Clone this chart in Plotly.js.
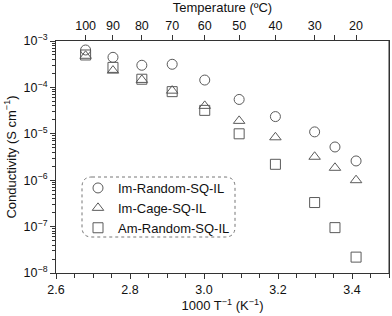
<!DOCTYPE html>
<html>
<head>
<meta charset="utf-8">
<script src="https://cdn.plot.ly/plotly-3.0.1.min.js"></script>
<style>html,body{margin:0;padding:0;background:#fff;}#chart{width:392px;height:316px;}</style>
</head>
<body>
<div id="chart"></div>
<script>
// Data
const tempLabels = ["100", "90", "80", "70", "60", "50", "40", "30", "", "20"]; // °C (25 °C unlabeled)
const invT = [2.680, 2.754, 2.832, 2.914, 3.002, 3.095, 3.193, 3.299, 3.354, 3.411]; // 1000/T (K^-1)
const imRandom = [6.4e-4, 4.45e-4, 3.0e-4, 3.15e-4, 1.44e-4, 5.5e-5, 2.35e-5, 1.1e-5, 5.2e-6, 2.6e-6];
const imCage = [4.8e-4, 2.3e-4, 1.45e-4, 8.5e-5, 4.0e-5, 1.9e-5, 8.4e-6, 3.2e-6, 1.85e-6, 1.0e-6];
const amRandom = [5.0e-4, 2.7e-4, 1.5e-4, 8.1e-5, 3.2e-5, 1.0e-5, 2.2e-6, 3.3e-7, 9.5e-8, 2.2e-8];
const seriesNames = ["Im-Random-SQ-IL", "Im-Cage-SQ-IL", "Am-Random-SQ-IL"];
const yTickVals = [1e-8, 1e-7, 1e-6, 1e-5, 1e-4, 1e-3];
const yTickText = ["10<sup>−8</sup>", "10<sup>−7</sup>", "10<sup>−6</sup>", "10<sup>−5</sup>", "10<sup>−4</sup>", "10<sup>−3</sup>"];

const mcol = '#5a5a5a';
const fam = 'Liberation Sans, Arial, sans-serif';
const font = {family: fam, size: 12.5, color: '#111'};

function tr(y, name, symbol) {
  return {
    x: invT, y: y, name: name, type: 'scatter', mode: 'markers',
    marker: {symbol: symbol, size: 10, color: mcol, line: {color: mcol, width: 1}},
    xaxis: 'x', yaxis: 'y'
  };
}
const data = [
  tr(imRandom, seriesNames[0], 'circle-open'),
  tr(imCage, seriesNames[1], 'triangle-up-open'),
  tr(amRandom, seriesNames[2], 'square-open'),
  {x: invT, y: imRandom, xaxis: 'x2', yaxis: 'y', type: 'scatter', mode: 'markers',
   marker: {opacity: 0}, showlegend: false, hoverinfo: 'skip'}
];

const L = 56, R = 3, T = 41, B = 43;
const W = 392, H = 316;
const pw = W - L - R, ph = H - T - B;
// legend box in pixels -> paper
const bx0 = (82 - L) / pw, bx1 = (235 - L) / pw;
const by0 = 1 - (237 - T) / ph, by1 = 1 - (177 - T) / ph;
const rx = 10 / pw, ry = 10 / ph;
const path = `M ${bx0 + rx} ${by1} L ${bx1 - rx} ${by1} Q ${bx1} ${by1} ${bx1} ${by1 - ry} ` +
  `L ${bx1} ${by0 + ry} Q ${bx1} ${by0} ${bx1 - rx} ${by0} L ${bx0 + rx} ${by0} ` +
  `Q ${bx0} ${by0} ${bx0} ${by0 + ry} L ${bx0} ${by1 - ry} Q ${bx0} ${by1} ${bx0 + rx} ${by1} Z`;

const layout = {
  width: W, height: H,
  margin: {l: L, r: R, t: T, b: B, pad: 0},
  paper_bgcolor: '#fff', plot_bgcolor: '#fff',
  font: font,
  showlegend: true,
  legend: {x: (78 - L) / pw, y: by1 + 4 / ph, xanchor: 'left', yanchor: 'top',
           bgcolor: 'rgba(0,0,0,0)', borderwidth: 0, font: {family: fam, size: 13, color: '#111'},
           tracegroupgap: 0, itemwidth: 30},
  xaxis: {
    range: [2.6, 3.5], dtick: 0.2, tick0: 2.6, tickformat: '.1f',
    ticks: 'outside', ticklen: 5, tickwidth: 1, tickcolor: '#333',
    minor: {dtick: 0.05, ticks: 'outside', ticklen: 4, tickcolor: '#333', showgrid: false},
    showline: true, linecolor: '#333', linewidth: 1, mirror: false,
    showgrid: false, zeroline: false,
    title: {text: '1000 T<sup>−1</sup> (K<sup>−1</sup>)', font: {size: 13}, standoff: 3},
    tickfont: {size: 12.5}
  },
  xaxis2: {
    overlaying: 'x', side: 'top', range: [2.6, 3.5], anchor: 'y',
    tickmode: 'array', tickvals: invT, ticktext: tempLabels,
    ticks: 'outside', ticklen: 5, tickwidth: 1, tickcolor: '#333',
    showline: true, linecolor: '#333', linewidth: 1,
    showgrid: false, zeroline: false,
    title: {text: 'Temperature (ºC)', font: {size: 13}, standoff: 3},
    tickfont: {size: 12.5}
  },
  yaxis: {
    type: 'log', range: [-8, -3],
    tickmode: 'array', tickvals: yTickVals, ticktext: yTickText,
    ticks: 'outside', ticklen: 5, tickwidth: 1, tickcolor: '#333',
    minor: {tickmode: 'array',
            tickvals: [2e-8,3e-8,4e-8,5e-8,6e-8,7e-8,8e-8,9e-8,2e-7,3e-7,4e-7,5e-7,6e-7,7e-7,8e-7,9e-7,
                       2e-6,3e-6,4e-6,5e-6,6e-6,7e-6,8e-6,9e-6,2e-5,3e-5,4e-5,5e-5,6e-5,7e-5,8e-5,9e-5,
                       2e-4,3e-4,4e-4,5e-4,6e-4,7e-4,8e-4,9e-4],
            ticks: 'outside', ticklen: 3, tickcolor: '#333', showgrid: false},
    showline: true, linecolor: '#333', linewidth: 1, mirror: true,
    showgrid: false, zeroline: false,
    title: {text: 'Conductivity (S cm<sup>−1</sup>)', font: {size: 13}, standoff: 4},
    tickfont: {size: 12.5}
  },
  shapes: [
    {type: 'path', xref: 'paper', yref: 'paper', path: path,
     line: {color: '#777', width: 1, dash: 'dot'}, fillcolor: 'rgba(0,0,0,0)'},
    {type: 'line', xref: 'paper', yref: 'paper', x0: 1, x1: 1, y0: 0, y1: 1,
     line: {color: '#333', width: 1}}
  ]
};

Plotly.newPlot('chart', data, layout, {displayModeBar: false, staticPlot: true});
</script>
</body>
</html>
